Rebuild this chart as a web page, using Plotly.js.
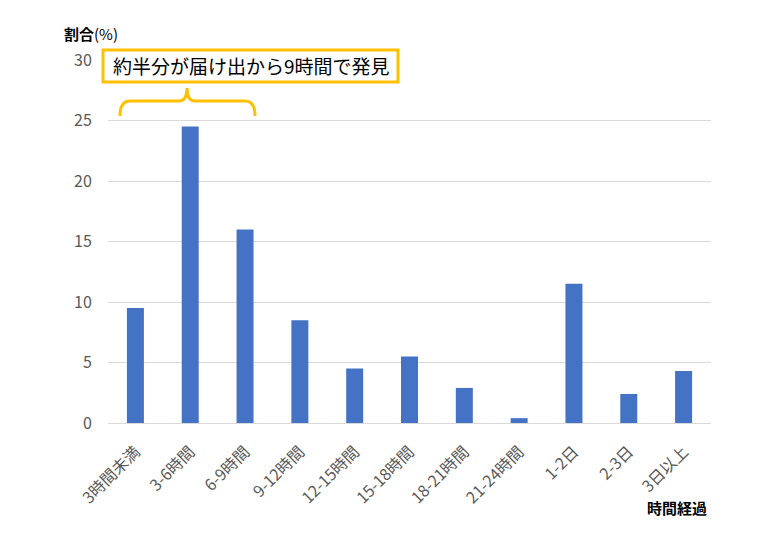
<!DOCTYPE html>
<html><head><meta charset="utf-8">
<script src="https://cdn.plot.ly/plotly-3.0.1.min.js"></script>
<style>html,body{margin:0;padding:0;background:#fff}#c{width:775px;height:538px}</style>
</head><body><div id="c"></div>
<script>
const categories = ['3時間未満','3-6時間','6-9時間','9-12時間','12-15時間','15-18時間','18-21時間','21-24時間','1-2日','2-3日','3日以上'];
const shares = [9.5, 24.5, 16.0, 8.5, 4.5, 5.5, 2.9, 0.4, 11.5, 2.4, 4.3];
const yTicks = [0, 5, 10, 15, 20, 25, 30];
const calloutText = '約半分が届け出から9時間で発見';

const W = 775, H = 538, L = 108, R = 64, T = 60, B = 115;
const pw = W - L - R, ph = H - T - B;
const px = x => (x - L) / pw;
const py = y => (H - B - y) / ph;
const P = (x, y) => px(x).toFixed(4) + ',' + py(y).toFixed(4);

const font = 'Noto Sans CJK JP, Noto Sans, sans-serif';
const bracket = 'M' + P(120,116) + ' Q' + P(120,101) + ' ' + P(130,101) +
  ' L' + P(179,101) + ' Q' + P(187,101) + ' ' + P(187,88) +
  ' Q' + P(187,101) + ' ' + P(195,101) + ' L' + P(245,101) +
  ' Q' + P(255,101) + ' ' + P(255,116);

Plotly.newPlot('c', [{
  type: 'bar', x: categories, y: shares,
  marker: {color: '#4472C4'}, hoverinfo: 'x+y'
}], {
  width: W, height: H,
  margin: {l: L, r: R, t: T, b: B, pad: 0},
  paper_bgcolor: '#fff', plot_bgcolor: '#fff',
  bargap: 0.69,
  font: {family: font, color: '#595959', size: 16},
  showlegend: false,
  xaxis: {
    tickangle: -45, tickfont: {size: 16, color: '#595959'},
    showgrid: false, showline: false, zeroline: false,
    ticks: 'outside', ticklen: 12, tickcolor: 'rgba(0,0,0,0)',
    automargin: false
  },
  yaxis: {
    range: [0, 30], tickvals: yTicks, tickfont: {size: 16, color: '#595959'},
    gridcolor: '#d9d9d9', gridwidth: 1, zeroline: true, zerolinecolor: '#d9d9d9',
    showline: false, ticks: 'outside', ticklen: 12, tickcolor: 'rgba(0,0,0,0)',
    automargin: false
  },
  annotations: [
    {xref: 'paper', yref: 'paper', x: px(62), y: py(33), xanchor: 'left', yanchor: 'middle',
     text: '<b>割合</b>(%)', showarrow: false, font: {size: 15, color: '#000', family: font}},
    {xref: 'paper', yref: 'paper', x: px(709), y: py(507), xanchor: 'right', yanchor: 'middle',
     text: '<b>時間経過</b>', showarrow: false, font: {size: 15, color: '#000', family: font}},
    {xref: 'paper', yref: 'paper', x: px(251), y: py(66), xanchor: 'center', yanchor: 'middle',
     text: calloutText, showarrow: false, font: {size: 19, color: '#000', family: font}}
  ],
  shapes: [
    {type: 'rect', xref: 'paper', yref: 'paper', x0: px(103), x1: px(398), y0: py(82), y1: py(50),
     line: {color: '#FFC000', width: 3}, fillcolor: '#fff'},
    {type: 'path', xref: 'paper', yref: 'paper', path: bracket,
     line: {color: '#FFC000', width: 3}}
  ]
}, {displayModeBar: false, staticPlot: true});
</script></body></html>
